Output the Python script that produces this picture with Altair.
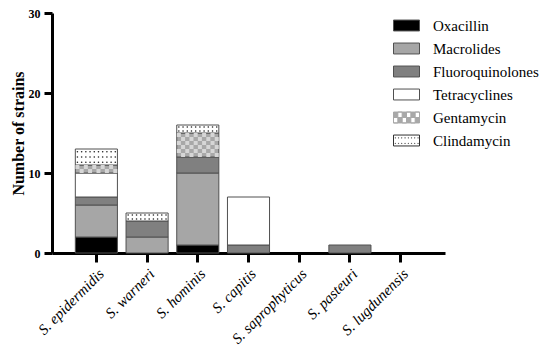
import altair as alt
import pandas as pd

species = ["S. epidermidis", "S. warneri", "S. hominis", "S. capitis",
           "S. saprophyticus", "S. pasteuri", "S. lugdunensis"]
antibiotics = ["Oxacillin", "Macrolides", "Fluoroquinolones",
               "Tetracyclines", "Gentamycin", "Clindamycin"]
oxacillin = [2, 0, 1, 0, 0, 0, 0]
macrolides = [4, 2, 9, 0, 0, 0, 0]
fluoroquinolones = [1, 2, 2, 1, 0, 1, 0]
tetracyclines = [3, 0, 0, 6, 0, 0, 0]
gentamycin = [1, 0, 3, 0, 0, 0, 0]
clindamycin = [2, 1, 1, 0, 0, 0, 0]
colors = ["#000000", "#a6a6a6", "#808080", "#ffffff", "#a8a8a8", "#ffffff"]
y_ticks = [0, 10, 20, 30]

series = [oxacillin, macrolides, fluoroquinolones, tetracyclines, gentamycin, clindamycin]
rows = []
for i, (ab, vals) in enumerate(zip(antibiotics, series)):
    for sp, v in zip(species, vals):
        rows.append({"species": sp, "antibiotic": ab, "count": v, "idx": i})
df = pd.DataFrame(rows)

# pattern helpers (derived from the data: segment start = sum of lower segments)
n_cols = 10
check_rows, dot_rows = [], []
for j, sp in enumerate(species):
    start = 0
    for ab, vals in zip(antibiotics, series):
        c = vals[j]
        if ab == "Gentamycin" and c > 0:
            nr = 2 * c
            for r in range(nr):
                for col in range(n_cols):
                    if (r + col) % 2 == 1:
                        check_rows.append({"species": sp, "col": col,
                                           "yval": start + (r + 0.5) * c / nr})
        if ab == "Clindamycin" and c > 0:
            nr = int(round(c * 1.5 + 0.01))
            for r in range(nr):
                for col in range(n_cols):
                    dot_rows.append({"species": sp, "col": col,
                                     "yval": start + (r + 0.5) * c / nr})
        start += c
check_df = pd.DataFrame(check_rows)
dot_df = pd.DataFrame(dot_rows)

# legend symbol shapes (unit paths, scaled by the symbol size)
rect_path = "M-2,-0.84H2V0.84H-2Z"
check_path = rect_path
for r in range(2):
    for c in range(6):
        if (r + c) % 2 == 1:
            x0 = -2 + c * 4 / 6
            x1 = x0 + 4 / 6
            y0 = -0.84 + r * 0.84
            y1 = y0 + 0.84
            check_path += f"M{x0:.3f},{y0:.3f}V{y1:.3f}H{x1:.3f}V{y0:.3f}Z"
dot_path = rect_path
for r in range(2):
    for c in range(8):
        x = -2 + (c + 0.5) * 0.5
        y = -0.42 + r * 0.84
        dot_path += f"M{x:.3f},{y:.3f}h0.05v0.05h-0.05Z"
shape_expr = (f"datum.value === 'Gentamycin' ? '{check_path}' : "
              f"datum.value === 'Clindamycin' ? '{dot_path}' : '{rect_path}'")
stroke_expr = ("datum.value === 'Gentamycin' ? '#a8a8a8' : "
               "datum.value === 'Clindamycin' ? '#303030' : '#505050'")

serif = "Liberation Serif"

x_enc = alt.X("species:N", sort=species,
              scale=alt.Scale(domain=species, paddingInner=0.17, paddingOuter=0.46),
              axis=alt.Axis(title=None, labelAngle=315, labelAlign="right",
                            labelBaseline="top", labelFont=serif,
                            labelFontStyle="italic", labelFontSize=15,
                            labelColor="black", labelPadding=4,
                            domainWidth=3, domainColor="black",
                            tickWidth=3, tickColor="black", tickSize=9))
y_scale = alt.Scale(domain=[0, 30], nice=False)
col_offset = alt.ExprRef(
    expr=f"((datum.col + 0.5) / {n_cols} - 0.5) * bandwidth('x')")

bars = alt.Chart(df).transform_filter("datum.count > 0").mark_bar(
    stroke="#505050", strokeWidth=1
).encode(
    x=x_enc,
    y=alt.Y("count:Q", stack="zero", scale=y_scale,
            axis=alt.Axis(values=y_ticks, title="Number of strains",
                          titleFont=serif, titleFontSize=16, titleFontWeight="bold",
                          titleColor="black", titlePadding=2,
                          labelFont=serif, labelFontSize=12, labelFontWeight="bold",
                          labelColor="black", labelPadding=4, grid=False,
                          domainWidth=3, domainColor="black",
                          tickWidth=3, tickColor="black", tickSize=8)),
    color=alt.Color("antibiotic:N", sort=antibiotics,
                    scale=alt.Scale(domain=antibiotics, range=colors),
                    legend=alt.Legend(title=None, orient="none", legendX=347, legendY=5,
                                      symbolType=alt.ExprRef(expr=shape_expr),
                                      symbolSize=169,
                                      symbolStrokeColor=alt.ExprRef(expr=stroke_expr),
                                      symbolStrokeWidth=1, symbolOpacity=1,
                                      labelFont=serif, labelFontSize=15,
                                      labelColor="black", labelOffset=19,
                                      labelLimit=200,
                                      rowPadding=7, padding=0)),
    order=alt.Order("idx:Q"),
)

checks = alt.Chart(check_df).mark_point(
    shape="square", filled=True, size=16, color="#d6d6d6", opacity=1,
    strokeWidth=0, xOffset=col_offset
).encode(
    x=x_enc,
    y=alt.Y("yval:Q", scale=y_scale),
)

dots = alt.Chart(dot_df).mark_point(
    shape="circle", filled=True, size=2.5, color="#202020", opacity=1,
    strokeWidth=0, xOffset=col_offset
).encode(
    x=x_enc,
    y=alt.Y("yval:Q", scale=y_scale),
)

chart = alt.layer(bars, checks, dots).properties(
    width=393, height=240,
    autosize=alt.AutoSizeParams(type="none"),
    padding={"left": 44, "top": 5, "right": 97, "bottom": 93},
).configure_view(strokeWidth=0)

chart.save("out.html", embed_options={"renderer": "svg", "actions": False})
